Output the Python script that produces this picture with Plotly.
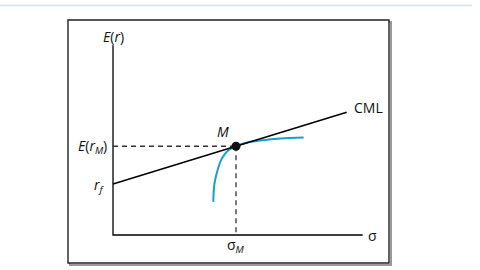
import plotly.graph_objects as go

# Data (σ, E(r)) in chart units
rf = 5.0
E_rM = 8.7
sigma_M = 20.0
cml_sigma_end = 38.0
x_axis_len = 40.6
y_axis_len = 18.6

frontier_sigma = [16.3, 16.5, 17.0, 17.7, 18.75, 19.95, 21.7, 24.4, 27.2, 31.0]
frontier_E = [3.25, 5.05, 6.35, 7.5, 8.3, 8.7, 9.05, 9.3, 9.45, 9.55]

cml_sigma = [0.0, cml_sigma_end]
cml_E = [rf + (E_rM - rf) / sigma_M * s for s in cml_sigma]

FONT = "Open Sans"
blue = "#1aa2c6"

fig = go.Figure()

# axes
fig.add_trace(go.Scatter(x=[0, 0, x_axis_len], y=[y_axis_len, 0, 0], mode="lines",
                         line=dict(color="black", width=1.3), hoverinfo="skip"))
# dashed guides
fig.add_trace(go.Scatter(x=[0, sigma_M], y=[E_rM, E_rM], mode="lines",
                         line=dict(color="#333", width=1.3, dash="5px,4px"), hoverinfo="skip"))
fig.add_trace(go.Scatter(x=[sigma_M, sigma_M], y=[E_rM, 0], mode="lines",
                         line=dict(color="#333", width=1.3, dash="5px,4px"), hoverinfo="skip"))
# frontier
fig.add_trace(go.Scatter(x=frontier_sigma, y=frontier_E, mode="lines",
                         line=dict(color=blue, width=2, shape="spline"), hoverinfo="skip"))
# CML
fig.add_trace(go.Scatter(x=cml_sigma, y=cml_E, mode="lines",
                         line=dict(color="black", width=1.6), hoverinfo="skip"))
# M point
fig.add_trace(go.Scatter(x=[sigma_M], y=[E_rM], mode="markers",
                         marker=dict(color="#111", size=9), hoverinfo="skip"))

ann = dict(showarrow=False, font=dict(family=FONT, size=14, color="#111"))
fig.add_annotation(x=0, y=19.5, text="<i>E</i>(<i>r</i>)", xanchor="center", yanchor="middle", **ann)
fig.add_annotation(x=-0.6, y=E_rM - 0.05, text="<i>E</i>(<i>r</i><sub><i>M</i></sub>)", xanchor="right", yanchor="middle", **ann)
fig.add_annotation(x=-0.9, y=rf - 0.15, text="<i>r</i><sub><i>f</i></sub>", xanchor="right", yanchor="middle", **ann)
fig.add_annotation(x=17.9, y=10.1, text="<i>M</i>", xanchor="center", yanchor="middle", **ann)
fig.add_annotation(x=38.9, y=12.5, text="CML", xanchor="left", yanchor="middle", **ann)
fig.add_annotation(x=41.2, y=0.0, text="σ", xanchor="left", yanchor="middle", **ann)
fig.add_annotation(x=sigma_M, y=-1.05, text="σ<sub><i>M</i></sub>", xanchor="center", yanchor="middle", **ann)

# frame with shadow and top rule
fig.add_shape(type="rect", xref="paper", yref="paper",
              x0=70/480, x1=391/480, y0=1-265/270, y1=1-22/270,
              line=dict(color="#9a9a9a", width=2), layer="below")
fig.add_shape(type="rect", xref="paper", yref="paper",
              x0=68/480, x1=389/480, y0=1-263/270, y1=1-20/270,
              line=dict(color="#222", width=1.4), fillcolor="white", layer="below")
fig.add_shape(type="line", xref="paper", yref="paper",
              x0=0, x1=472/480, y0=1-5.5/270, y1=1-5.5/270,
              line=dict(color="#dbe6ee", width=2))

fig.update_layout(
    width=480, height=270, margin=dict(l=0, r=0, t=0, b=0),
    paper_bgcolor="white", plot_bgcolor="rgba(0,0,0,0)", showlegend=False,
    xaxis=dict(visible=False, range=[-113/6.15, 367/6.15], fixedrange=True),
    yaxis=dict(visible=False, range=[-35/10.2, 235/10.2], fixedrange=True),
)

fig.write_html("out.html")
